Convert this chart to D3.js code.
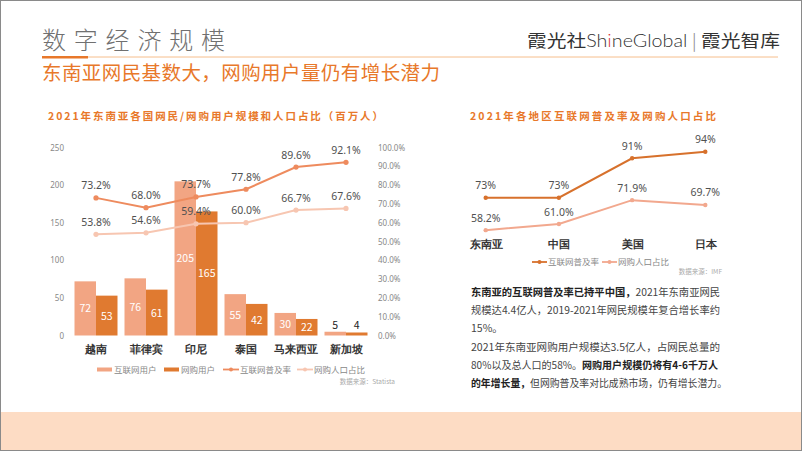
<!DOCTYPE html>
<html><head><meta charset="utf-8">
<script src="https://cdn.jsdelivr.net/npm/d3@7"></script>
<style>
html,body{margin:0;padding:0;background:#fff;}
svg{display:block;font-family:"Noto Sans CJK SC","Noto Sans",sans-serif;}
</style></head>
<body><svg id="c" width="802" height="451"></svg>
<script>
// ---- data ----
const countries = ["越南","菲律宾","印尼","泰国","马来西亚","新加坡"];
const internetUsers = [72,76,205,55,30,5];
const onlineShoppers = [53,61,165,42,22,4];
const internetPenetration = [73.2,68.0,73.7,77.8,89.6,92.1];
const shopperShare = [53.8,54.6,59.4,60.0,66.7,67.6];
const leftTicks = [0,50,100,150,200,250];
const rightTicks = [0,10,20,30,40,50,60,70,80,90,100];

const regions = ["东南亚","中国","美国","日本"];
const regionPenetration = [73,73,91,94];
const regionShopperShare = [58.2,61.0,71.9,69.7];

const C = {bar1:"#F2A583", bar2:"#E07A30", line1:"#EE8B5E", line2:"#F7C6B1",
  rline1:"#D7712C", rline2:"#F2A88E", orange:"#E8782A", text:"#444"};

const svg = d3.select("#c");
svg.append("rect").attr("x",0.5).attr("y",0.5).attr("width",801).attr("height",450)
  .attr("fill","#fff").attr("stroke","#8a8a8a");
svg.append("rect").attr("x",1).attr("y",412).attr("width",800).attr("height",38).attr("fill","#FDDCC4");

// header
svg.append("text").attr("x",42).attr("y",49).attr("font-size",24).attr("fill","#707070").attr("font-weight",300)
  .attr("textLength",183).attr("lengthAdjust","spacing").text("数字经济规模");
svg.append("line").attr("x1",42).attr("x2",778).attr("y1",57).attr("y2",57).attr("stroke","#F6BE8C").attr("stroke-width",1);
svg.append("rect").attr("x",42).attr("y",56).attr("width",46).attr("height",2.5).attr("fill",C.orange);
svg.append("text").attr("x",42).attr("y",80).attr("font-size",19.5).attr("fill",C.orange)
  .attr("textLength",398).attr("lengthAdjust","spacing").text("东南亚网民基数大，网购用户量仍有增长潜力");
const brand = svg.append("text").attr("x",527).attr("y",47).attr("font-size",17).attr("fill","#333")
  .attr("textLength",253).attr("lengthAdjust","spacingAndGlyphs");
brand.append("tspan").text("霞光社");
brand.append("tspan").attr("font-family","Lato, 'Open Sans', sans-serif").attr("font-weight",300).text("Sh");
brand.append("tspan").attr("font-family","Lato, 'Open Sans', sans-serif").attr("font-weight",300).attr("fill","#D8303A").text("i");
brand.append("tspan").attr("font-family","Lato, 'Open Sans', sans-serif").attr("font-weight",300).text("neGlobal");
brand.append("tspan").attr("fill","#888").attr("font-weight",300).text(" | ");
brand.append("tspan").text("霞光智库");

// ---- left chart ----
svg.append("text").attr("x",48).attr("y",120).attr("font-size",10.5).attr("font-weight","bold")
  .attr("fill",C.orange).attr("textLength",335).attr("lengthAdjust","spacing")
  .text("2021年东南亚各国网民/网购用户规模和人口占比（百万人）");

const x = d3.scaleBand().domain(countries).range([71,371]).paddingInner(0.14).paddingOuter(0.07);
const xs = d3.scaleBand().domain([0,1]).range([0,x.bandwidth()]);
const y = d3.scaleLinear().domain([0,250]).range([335.5,147.5]);
const y2 = d3.scaleLinear().domain([0,100]).range([335.5,147.5]);

const axL = svg.append("g").attr("transform","translate(64,0)")
  .call(d3.axisLeft(y).tickValues(leftTicks).tickSize(0).tickPadding(0));
axL.select(".domain").remove();
axL.selectAll("text").attr("font-size",8).attr("fill","#888").attr("font-family","'Noto Sans',sans-serif");
const axR = svg.append("g").attr("transform","translate(378,0)")
  .call(d3.axisRight(y2).tickValues(rightTicks).tickSize(0).tickPadding(0).tickFormat(d=>d.toFixed(1)+"%"));
axR.select(".domain").remove();
axR.selectAll("text").attr("font-size",8).attr("fill","#888").attr("font-family","'Noto Sans',sans-serif");

const barSeries = [internetUsers, onlineShoppers];
const barColors = [C.bar1, C.bar2];
barSeries.forEach((vals,si)=>{
  const g = svg.append("g");
  g.selectAll("rect").data(vals).join("rect")
    .attr("x",(d,i)=>x(countries[i])+xs(si)).attr("width",xs.bandwidth())
    .attr("y",d=>y(d)).attr("height",d=>y(0)-y(d)).attr("fill",barColors[si]);
  g.selectAll("text").data(vals).join("text")
    .attr("x",(d,i)=>x(countries[i])+xs(si)+xs.bandwidth()/2)
    .attr("y",d=> (y(0)-y(d))<15 ? y(d)-3 : (y(d)+y(0))/2+4)
    .attr("text-anchor","middle").attr("font-size",10.5)
    .attr("fill",d=>(y(0)-y(d))<15 ? "#222" : "#fff").text(d=>d);
});

const lineSeries = [internetPenetration, shopperShare];
const lineColors = [C.line1, C.line2];
lineSeries.forEach((vals,si)=>{
  const g = svg.append("g");
  const line = d3.line().x((d,i)=>x(countries[i])+x.bandwidth()/2).y(d=>y2(d));
  g.append("path").attr("d",line(vals)).attr("fill","none").attr("stroke",lineColors[si]).attr("stroke-width",2);
  g.selectAll("circle").data(vals).join("circle")
    .attr("cx",(d,i)=>x(countries[i])+x.bandwidth()/2).attr("cy",d=>y2(d)).attr("r",2.6).attr("fill",lineColors[si]);
  g.selectAll("text").data(vals).join("text")
    .attr("x",(d,i)=>x(countries[i])+x.bandwidth()/2).attr("y",d=>y2(d)-8.5)
    .attr("text-anchor","middle").attr("font-size",10.5).attr("fill","#505050")
    .attr("font-family","'Noto Sans',sans-serif").text(d=>d.toFixed(1)+"%");
});

const axB = svg.append("g").attr("transform","translate(0,344)")
  .call(d3.axisBottom(x).tickSize(0).tickPadding(0));
axB.select(".domain").remove();
axB.selectAll("text").attr("font-size",10.5).attr("font-weight","bold").attr("fill","#333").attr("dy","0.85em");

// left legend
const legL = [
  {t:"互联网用户",x:97,type:"bar",c:C.bar1},
  {t:"网购用户",x:164,type:"bar",c:C.bar2},
  {t:"互联网普及率",x:223,type:"line",c:C.line1},
  {t:"网购人口占比",x:297,type:"line",c:C.line2}];
legL.forEach(d=>{
  if(d.type==="bar") svg.append("rect").attr("x",d.x).attr("y",367.5).attr("width",15).attr("height",4).attr("fill",d.c);
  else {
    svg.append("line").attr("x1",d.x).attr("x2",d.x+16).attr("y1",369.5).attr("y2",369.5).attr("stroke",d.c).attr("stroke-width",1.8);
    svg.append("circle").attr("cx",d.x+8).attr("cy",369.5).attr("r",2).attr("fill",d.c);
  }
  svg.append("text").attr("x",d.x+17).attr("y",372.5).attr("font-size",8.5).attr("fill","#888").text(d.t);
});
svg.append("text").attr("x",395).attr("y",384).attr("text-anchor","end").attr("font-size",6.5).attr("fill","#aaa").text("数据来源：Statista");

// ---- right chart ----
svg.append("text").attr("x",470).attr("y",120).attr("font-size",10.5).attr("font-weight","bold")
  .attr("fill",C.orange).attr("textLength",246).attr("lengthAdjust","spacing")
  .text("2021年各地区互联网普及率及网购人口占比");
const rx = d3.scalePoint().domain(regions).range([485.7,705.3]);
const ry = d3.scaleLinear().domain([0,100]).range([357.6,138.6]);
[[regionPenetration,C.rline1,d=>d+"%"],[regionShopperShare,C.rline2,d=>d.toFixed(1)+"%"]].forEach(([vals,col,fmt])=>{
  const g = svg.append("g");
  g.append("path").attr("d",d3.line().x((d,i)=>rx(regions[i])).y(d=>ry(d))(vals))
    .attr("fill","none").attr("stroke",col).attr("stroke-width",2);
  g.selectAll("circle").data(vals).join("circle").attr("cx",(d,i)=>rx(regions[i])).attr("cy",d=>ry(d)).attr("r",2.2).attr("fill",col);
  g.selectAll("text").data(vals).join("text").attr("x",(d,i)=>rx(regions[i])).attr("y",d=>ry(d)-8.5)
    .attr("text-anchor","middle").attr("font-size",10.5).attr("fill","#505050")
    .attr("font-family","'Noto Sans',sans-serif").text(fmt);
});
const axRB = svg.append("g").attr("transform","translate(0,239)").call(d3.axisBottom(rx).tickSize(0).tickPadding(0));
axRB.select(".domain").remove();
axRB.selectAll("text").attr("font-size",10.5).attr("font-weight","bold").attr("fill","#333").attr("dy","0.85em");

const legR = [{t:"互联网普及率",x:532,c:C.rline1},{t:"网购人口占比",x:602,c:C.rline2}];
legR.forEach(d=>{
  svg.append("line").attr("x1",d.x).attr("x2",d.x+15).attr("y1",262).attr("y2",262).attr("stroke",d.c).attr("stroke-width",1.8);
  svg.append("circle").attr("cx",d.x+7.5).attr("cy",262).attr("r",2).attr("fill",d.c);
  svg.append("text").attr("x",d.x+16).attr("y",265).attr("font-size",8.5).attr("fill","#888").text(d.t);
});
svg.append("text").attr("x",722).attr("y",274).attr("text-anchor","end").attr("font-size",6.5).attr("fill","#aaa").text("数据来源：IMF");

// paragraph
const para = [
  [["东南亚的互联网普及率已持平中国，",true],["2021年东南亚网民",false]],
  [["规模达4.4亿人，2019-2021年网民规模年复合增长率约",false]],
  [["15%。",false]],
  [["2021年东南亚网购用户规模达3.5亿人，占网民总量的",false]],
  [["80%以及总人口的58%。",false],["网购用户规模仍将有4-6千万人",true]],
  [["的年增长量，",true],["但网购普及率对比成熟市场，仍有增长潜力。",false]]
];
const paraEnds = [720,720,null,720,718,727];
para.forEach((segs,i)=>{
  const t = svg.append("text").attr("x",471).attr("y",296+i*18.2).attr("font-size",10.5).attr("fill","#444");
  if(paraEnds[i]) t.attr("textLength",paraEnds[i]-471).attr("lengthAdjust","spacingAndGlyphs");
  segs.forEach(([s,b])=>t.append("tspan").attr("font-weight",b?"bold":"normal").attr("fill",b?"#222":"#444").text(s));
});
</script></body></html>
